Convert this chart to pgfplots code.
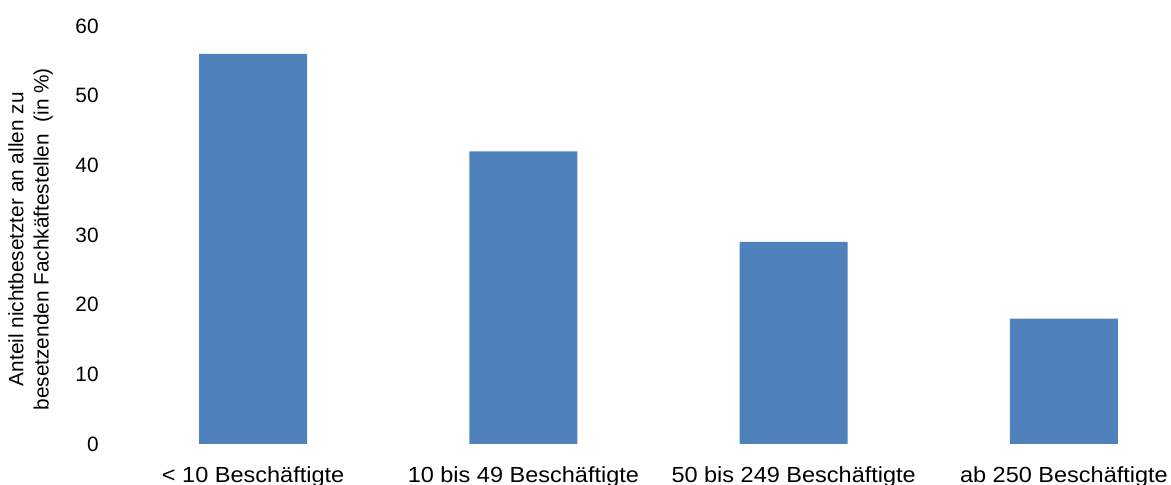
\documentclass[border=0pt]{standalone}
\usepackage{fontspec}
\setmainfont{Liberation Sans}
\usepackage{graphicx}
\usepackage{pgfplots}
\pgfplotsset{compat=1.18}
\definecolor{barblue}{HTML}{4F81BD}
\newcommand{\xl}[1]{\scalebox{1.13}[1.05]{#1}}
\begin{document}
\fontsize{10.4}{12.6}\selectfont
\begin{tikzpicture}
\begin{axis}[name=ax, at={(0,0)}, anchor=south west,
  width=526.5pt, height=209pt, scale only axis,
  xmin=-0.5, xmax=3.396, ymin=0, ymax=60,
  axis line style={draw=none}, major tick length=0pt, tick style={draw=none},
  xtick={0,1,2,3},
  xticklabels={{\xl{< 10 Beschäftigte}},{\xl{10 bis 49 Beschäftigte}},{\xl{50 bis 249 Beschäftigte}},{\xl{ab 250 Beschäftigte}}},
  ytick={0,10,20,30,40,50,60},
  /pgf/number format/assume math mode=true,
  xticklabel style={inner sep=0pt, anchor=north, yshift=-11.3pt},
  yticklabel style={inner sep=0pt, anchor=east, xshift=-9.5pt},
  ylabel={Anteil nichtbesetzter an allen zu\\besetzenden Fachkäftestellen\ \ (in \%)},
  ylabel style={at={(rel axis cs:-0.083,0.49)}, anchor=center, align=center},
  ybar, bar width=54pt,
]
\addplot[fill=barblue, draw=none] coordinates {(0,56) (1,42) (2,29) (3,18)};
\end{axis}
\pgfresetboundingbox
\path[use as bounding box] ([xshift=-59pt,yshift=-20.5pt]ax.south west) rectangle ([yshift=13pt]ax.north east);
\end{tikzpicture}
\end{document}
